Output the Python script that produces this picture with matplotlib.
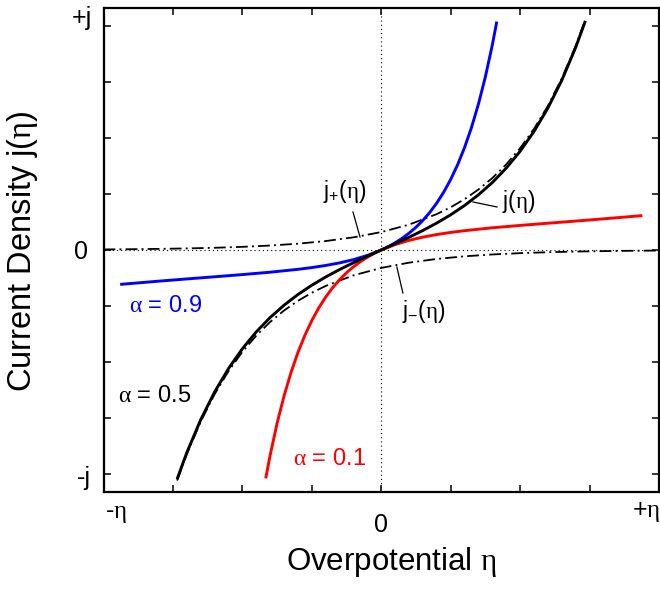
import numpy as np
import matplotlib
matplotlib.use("Agg")
import matplotlib.pyplot as plt

plt.rcParams['font.family'] = ['Liberation Sans', 'DejaVu Sans']
plt.rcParams['mathtext.fontset'] = 'custom'
plt.rcParams['mathtext.rm'] = 'Liberation Sans'
plt.rcParams['mathtext.it'] = 'Liberation Serif'
plt.rcParams['mathtext.default'] = 'it'
plt.rcParams['lines.scale_dashes'] = False

# Net current density, alpha = 0.5
black_x = [-0.735, -0.70, -0.65, -0.60, -0.55, -0.50, -0.45, -0.40, -0.35, -0.30,
           -0.25, -0.20, -0.15, -0.10, -0.05, 0.0, 0.05, 0.10, 0.15, 0.20,
           0.25, 0.30, 0.35, 0.40, 0.45, 0.50, 0.55, 0.60, 0.65, 0.70, 0.735]
black_y = [-1.0226, -0.9040, -0.7573, -0.6336, -0.5291, -0.4406, -0.3654, -0.3013, -0.2463, -0.1987,
           -0.1572, -0.1204, -0.0872, -0.0567, -0.0279, 0.0, 0.0279, 0.0567, 0.0872, 0.1204,
           0.1572, 0.1987, 0.2463, 0.3013, 0.3654, 0.4406, 0.5291, 0.6336, 0.7573, 0.9040, 1.0226]

# Anodic partial current j+
jplus_x = [-1.0, -0.9, -0.8, -0.7, -0.6, -0.5, -0.4, -0.3, -0.2, -0.1, 0.0,
           0.1, 0.2, 0.25, 0.3, 0.35, 0.4, 0.45, 0.5, 0.55, 0.6, 0.65, 0.7, 0.735]
jplus_y = [0.0025, 0.0035, 0.0050, 0.0070, 0.0099, 0.0141, 0.0199, 0.0282, 0.0399, 0.0565, 0.0800,
           0.1132, 0.1603, 0.1907, 0.2269, 0.2700, 0.3212, 0.3821, 0.4546, 0.5409, 0.6436, 0.7657, 0.9110, 1.0288]

# Cathodic partial current j-
jminus_x = [-0.735, -0.7, -0.65, -0.6, -0.55, -0.5, -0.45, -0.4, -0.35, -0.3, -0.25, -0.2,
            -0.1, 0.0, 0.1, 0.2, 0.3, 0.4, 0.5, 0.6, 0.7, 0.8, 0.9, 1.0]
jminus_y = [-1.0288, -0.9110, -0.7657, -0.6436, -0.5409, -0.4546, -0.3821, -0.3212, -0.2700, -0.2269, -0.1907, -0.1603,
            -0.1132, -0.0800, -0.0565, -0.0399, -0.0282, -0.0199, -0.0141, -0.0099, -0.0070, -0.0050, -0.0035, -0.0025]

# alpha = 0.9
blue_x = [-0.94, -0.8, -0.7, -0.6, -0.5, -0.4, -0.3, -0.25, -0.2, -0.15, -0.1, -0.05, 0.0,
          0.025, 0.05, 0.075, 0.1, 0.125, 0.15, 0.175, 0.2, 0.225, 0.25, 0.275, 0.3,
          0.325, 0.35, 0.375, 0.4, 0.416]
blue_y = [-0.1535, -0.1390, -0.1291, -0.1195, -0.1097, -0.0991, -0.0863, -0.0784, -0.0690, -0.0575, -0.0430, -0.0243, 0.0,
          0.0149, 0.0321, 0.0520, 0.0750, 0.1015, 0.1324, 0.1682, 0.2099, 0.2584, 0.3149, 0.3807, 0.4575,
          0.5471, 0.6516, 0.7735, 0.9160, 1.0194]

# alpha = 0.1
red_x = [-0.416, -0.4, -0.375, -0.35, -0.325, -0.3, -0.275, -0.25, -0.225, -0.2, -0.175, -0.15,
         -0.125, -0.1, -0.075, -0.05, -0.025, 0.0, 0.05, 0.1, 0.15, 0.2, 0.25, 0.3,
         0.4, 0.5, 0.6, 0.7, 0.8, 0.94]
red_y = [-1.0194, -0.9160, -0.7735, -0.6516, -0.5471, -0.4575, -0.3807, -0.3149, -0.2584, -0.2099, -0.1682, -0.1324,
         -0.1015, -0.0750, -0.0520, -0.0321, -0.0149, 0.0, 0.0243, 0.0430, 0.0575, 0.0690, 0.0784, 0.0863,
         0.0991, 0.1097, 0.1195, 0.1291, 0.1390, 0.1535]

W, H = 660, 593
fig = plt.figure(figsize=(W / 100, H / 100), dpi=100)
ax = fig.add_axes([103.5 / W, 1 - 492 / H, (659 - 103.5) / W, 484 / H])
ax.set_xlim(-1, 1)
ax.set_ylim(-1.08, 1.08)
ax.set_xticks(np.arange(-0.75, 0.76, 0.25))
ax.set_yticks(np.arange(-1.0, 1.01, 0.25))
ax.tick_params(direction='in', length=5, width=1.1, top=True, right=True,
               labelbottom=False, labelleft=False)
for s in ax.spines.values():
    s.set_linewidth(1.6)

dot = (0, (0.8, 2.2))
ax.axhline(0, color='k', lw=0.8, linestyle=dot, zorder=1)
ax.axvline(0, color='k', lw=0.8, linestyle=dot, zorder=1)

dashdot = (0, (8.5, 3.0, 1.4, 3.0))
ax.plot(jplus_x, jplus_y, color='k', lw=1.3, linestyle=dashdot, zorder=2)
ax.plot(jminus_x, jminus_y, color='k', lw=1.3, linestyle=dashdot, zorder=2)
ax.plot(blue_x, blue_y, color='#0000ff', lw=2.1, zorder=3, solid_capstyle='butt')
ax.plot(red_x, red_y, color='#ff0000', lw=2.1, zorder=3, solid_capstyle='butt')
ax.plot(black_x, black_y, color='k', lw=2.1, zorder=4, solid_capstyle='butt')

# leader lines from the labels to the curves
ax.plot([-0.1017, -0.0765], [0.1696, 0.0580], color='k', lw=0.9, zorder=5)
ax.plot([0.3303, 0.4168], [0.2143, 0.1920], color='k', lw=0.9, zorder=5)
ax.plot([0.0562, 0.0779], [-0.0759, -0.1920], color='k', lw=0.9, zorder=5)

ann = 16.5
ax.text(-0.2107, 0.2321, r'j$_{+}(\eta)$', fontsize=ann, ha='left', va='baseline')
ax.text(0.4347, 0.1875, r'j$(\eta)$', fontsize=ann, ha='left', va='baseline')
ax.text(0.0747, -0.3036, r'j$_{-}(\eta)$', fontsize=ann, ha='left', va='baseline')

lab = 17
ax.text(-0.908, -0.2768, r'$\alpha$ = 0.9', fontsize=lab, color='#0000ff', ha='left', va='baseline')
ax.text(-0.9478, -0.6786, r'$\alpha$ = 0.5', fontsize=lab, color='k', ha='left', va='baseline')
ax.text(-0.3177, -0.9598, r'$\alpha$ = 0.1', fontsize=lab, color='#ff0000', ha='left', va='baseline')

# axis end labels
tk = 18
ax.text(-1.0414, 1.0045, '+j', fontsize=tk, ha='right', va='baseline', clip_on=False)
ax.text(-1.0558, -0.0402, '0', fontsize=tk, ha='right', va='baseline', clip_on=False)
ax.text(-1.0450, -1.0491, '-j', fontsize=tk, ha='right', va='baseline', clip_on=False)
ax.text(-0.9946, -1.1964, r'-$\eta$', fontsize=tk, ha='left', va='baseline', clip_on=False)
ax.text(0.0009, -1.2589, '0', fontsize=tk, ha='center', va='baseline', clip_on=False)
ax.text(1.0036, -1.1920, r'+$\eta$', fontsize=tk, ha='right', va='baseline', clip_on=False)

fig.text(391.5 / W, 1 - 570 / H, r'Overpotential $\eta$', fontsize=22.5, ha='center', va='baseline')
fig.text(23 / W, 1 - 251 / H, r'Current Density j$(\eta)$', fontsize=23.5, rotation=90,
         ha='center', va='center')

fig.savefig('out.png', dpi=100)
